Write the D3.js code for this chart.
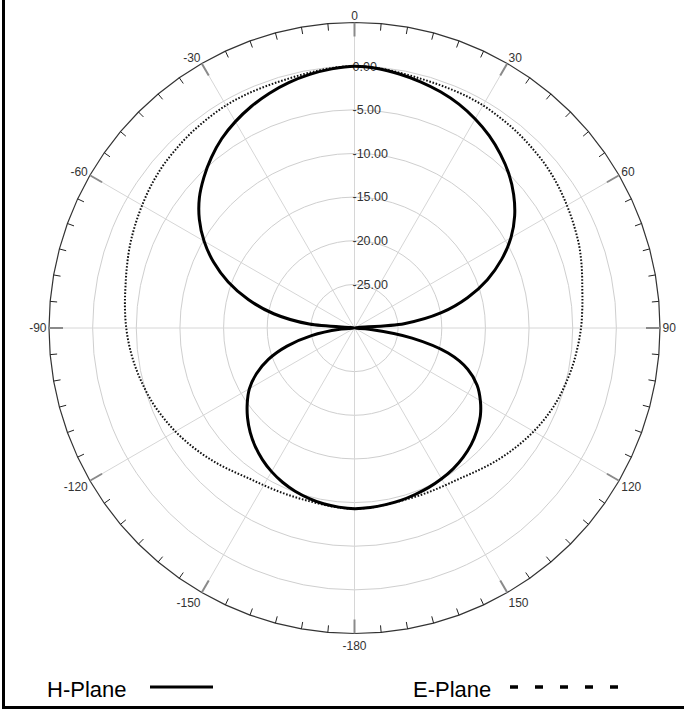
<!DOCTYPE html>
<html><head><meta charset="utf-8">
<script src="https://cdn.jsdelivr.net/npm/d3@7"></script>
<style>body{margin:0;background:#fff}svg{display:block}</style>
</head><body><svg id="chart" width="684" height="709"></svg>
<script>
// ---- data (angle in degrees, level in dB) ----
const hAngles = [-180,-175,-170,-165,-160,-155,-150,-145,-140,-135,-130,-125,-120,-115,-110,-105,-100,-95,-90,-85,-80,-75,-70,-65,-60,-55,-50,-45,-40,-35,-30,-25,-20,-15,-10,-5,
                 0,5,10,15,20,25,30,35,40,45,50,55,60,65,70,75,80,85,90,95,100,105,110,115,120,125,130,135,140,145,150,155,160,165,170,175];
const hValues = [-9.3,-9.4,-9.55,-9.8,-10.1,-10.5,-11.0,-11.6,-12.3,-13.1,-14.0,-15.0,-16.1,-17.6,-19.5,-22.0,-25.0,-28.3,-30,-24.8,-20.6,-17.4,-14.6,-12.2,-10.1,-8.3,-6.8,-5.6,-4.5,-3.5,-2.7,-2.0,-1.4,-0.9,-0.5,-0.2,
                 0,-0.15,-0.45,-0.8,-1.2,-1.7,-2.35,-3.1,-4.0,-5.0,-6.2,-7.6,-9.3,-11.4,-13.8,-16.6,-19.9,-24.3,-30,-28.3,-23.3,-18.9,-16.2,-14.5,-13.35,-12.4,-11.7,-11.1,-10.65,-10.3,-10.05,-9.85,-9.7,-9.55,-9.45,-9.35];
const eAngles = [-180,-175,-170,-165,-160,-155,-150,-145,-140,-135,-130,-125,-120,-115,-110,-105,-100,-95,-90,-85,-80,-75,-70,-65,-60,-55,-50,-45,-40,-35,-30,-25,-20,-15,-10,-5,
                 0,5,10,15,20,25,30,35,40,45,50,55,60,65,70,75,80,85,90,95,100,105,110,115,120,125,130,135,140,145,150,155,160,165,170,175];
const eValues = [-9.3,-9.35,-9.45,-9.5,-9.45,-9.35,-9.2,-8.95,-8.5,-7.95,-7.4,-6.85,-6.3,-5.8,-5.3,-4.9,-4.5,-4.15,-3.85,-3.6,-3.35,-3.0,-2.6,-2.25,-1.9,-1.55,-1.25,-1.05,-0.85,-0.7,-0.55,-0.5,-0.5,-0.45,-0.3,-0.1,
                 0,-0.1,-0.3,-0.45,-0.5,-0.5,-0.55,-0.7,-0.85,-1.05,-1.25,-1.55,-1.9,-2.25,-2.6,-3.05,-3.5,-3.8,-4.05,-4.35,-4.65,-5.0,-5.35,-5.8,-6.3,-6.85,-7.4,-7.95,-8.5,-8.95,-9.2,-9.35,-9.45,-9.5,-9.45,-9.35];
const ringLevels = [-25,-20,-15,-10,-5,0];
const ringLabels = ["-25.00","-20.00","-15.00","-10.00","-5.00","0.00"];
const angleTicks = [0,30,60,90,120,150,180,210,240,270,300,330];
const angleLabels = ["0","30","60","90","120","150","-180","-150","-120","-90","-60","-30"];
const legendLabels = ["H-Plane","E-Plane"];

// ---- layout ----
const svg = d3.select("#chart");
svg.append("rect").attr("width",684).attr("height",709).attr("fill","#fff");
const cx = 354.5, cy = 328, R = 305.5;
const r = d3.scaleLinear().domain([-30,5]).range([0,R]);
const a = d3.scaleLinear().domain([-180,180]).range([-Math.PI, Math.PI]);
const g = svg.append("g").attr("transform",`translate(${cx},${cy})`);
const FONT = "Liberation Sans, Arial, Helvetica, sans-serif";

// rings
g.selectAll("circle.ring").data(ringLevels).join("circle")
  .attr("r", d => r(d)).attr("fill","none").attr("stroke","#cfcfcf").attr("stroke-width",1);

// spokes
g.selectAll("line.spoke").data(angleTicks).join("line")
  .attr("x1",0).attr("y1",0)
  .attr("x2", d => Math.sin(a(d))*R).attr("y2", d => -Math.cos(a(d))*R)
  .attr("stroke","#d6d6d6").attr("stroke-width",1);

// ring labels
g.selectAll("text.rl").data(ringLevels).join("text")
  .attr("x",-2).attr("y", (d) => -r(d)).attr("dy","0.35em")
  .attr("font-family",FONT).attr("font-size",12.5).attr("fill","#333")
  .text((d,i) => ringLabels[i]);

// outer boundary (polygon through 5° steps)
const outerPts = d3.range(0,360,5);
g.append("path")
  .attr("d", d3.lineRadial().angle(d => a(d)).radius(R).curve(d3.curveLinearClosed)(outerPts))
  .attr("fill","none").attr("stroke","#333").attr("stroke-width",1.2);

// ticks
g.selectAll("line.tick").data(outerPts).join("line")
  .attr("x1", d => Math.sin(a(d))*R).attr("y1", d => -Math.cos(a(d))*R)
  .attr("x2", d => Math.sin(a(d))*(R - (d%30===0?14:7))).attr("y2", d => -Math.cos(a(d))*(R - (d%30===0?14:7)))
  .attr("stroke", d => d%30===0 ? "#8a8a8a" : "#222")
  .attr("stroke-width", d => d%30===0 ? 2 : 1);

// angle labels
const LR = 308, FS = 12;
g.selectAll("text.al").data(angleTicks).join("text")
  .attr("x", d => Math.sin(a(d))*LR)
  .attr("y", d => {
    const c = Math.cos(a(d));
    return -c*LR + FS*(0.35 - 0.35*c) + (c<0 ? -c*FS*0.45 : 0);
  })
  .attr("text-anchor", d => { const s = Math.sin(a(d)); return Math.abs(s)<0.1 ? "middle" : (s>0 ? "start" : "end"); })
  .attr("font-family",FONT).attr("font-size",FS).attr("fill","#333")
  .text((d,i) => angleLabels[i]);

// curves
const radial = d3.lineRadial().angle(d => a(d[0])).radius(d => r(d[1])).curve(d3.curveCatmullRomClosed.alpha(0.5));
const hData = hAngles.map((d,i) => [d, hValues[i]]);
const eData = eAngles.map((d,i) => [d, eValues[i]]);
g.append("path").attr("d", radial(eData)).attr("fill","none")
  .attr("stroke","#111").attr("stroke-width",2).attr("stroke-dasharray","1.6 1.7");
g.append("path").attr("d", radial(hData)).attr("fill","none")
  .attr("stroke","#000").attr("stroke-width",3).attr("stroke-linejoin","round");

// legend
const lg = svg.append("g");
lg.append("text").attr("x",47).attr("y",697).attr("font-family",FONT).attr("font-size",22).attr("fill","#000").text(legendLabels[0]);
lg.append("line").attr("x1",150).attr("x2",213).attr("y1",687).attr("y2",687).attr("stroke","#000").attr("stroke-width",3);
lg.append("text").attr("x",413).attr("y",697).attr("font-family",FONT).attr("font-size",22).attr("fill","#000").text(legendLabels[1]);
lg.append("line").attr("x1",510).attr("x2",622).attr("y1",687).attr("y2",687).attr("stroke","#000").attr("stroke-width",3.5).attr("stroke-dasharray","8 17");

// frame (left and bottom)
svg.append("line").attr("x1",3.5).attr("x2",3.5).attr("y1",0).attr("y2",709).attr("stroke","#000").attr("stroke-width",3);
svg.append("line").attr("x1",2).attr("x2",684).attr("y1",707.5).attr("y2",707.5).attr("stroke","#000").attr("stroke-width",3);
</script></body></html>
